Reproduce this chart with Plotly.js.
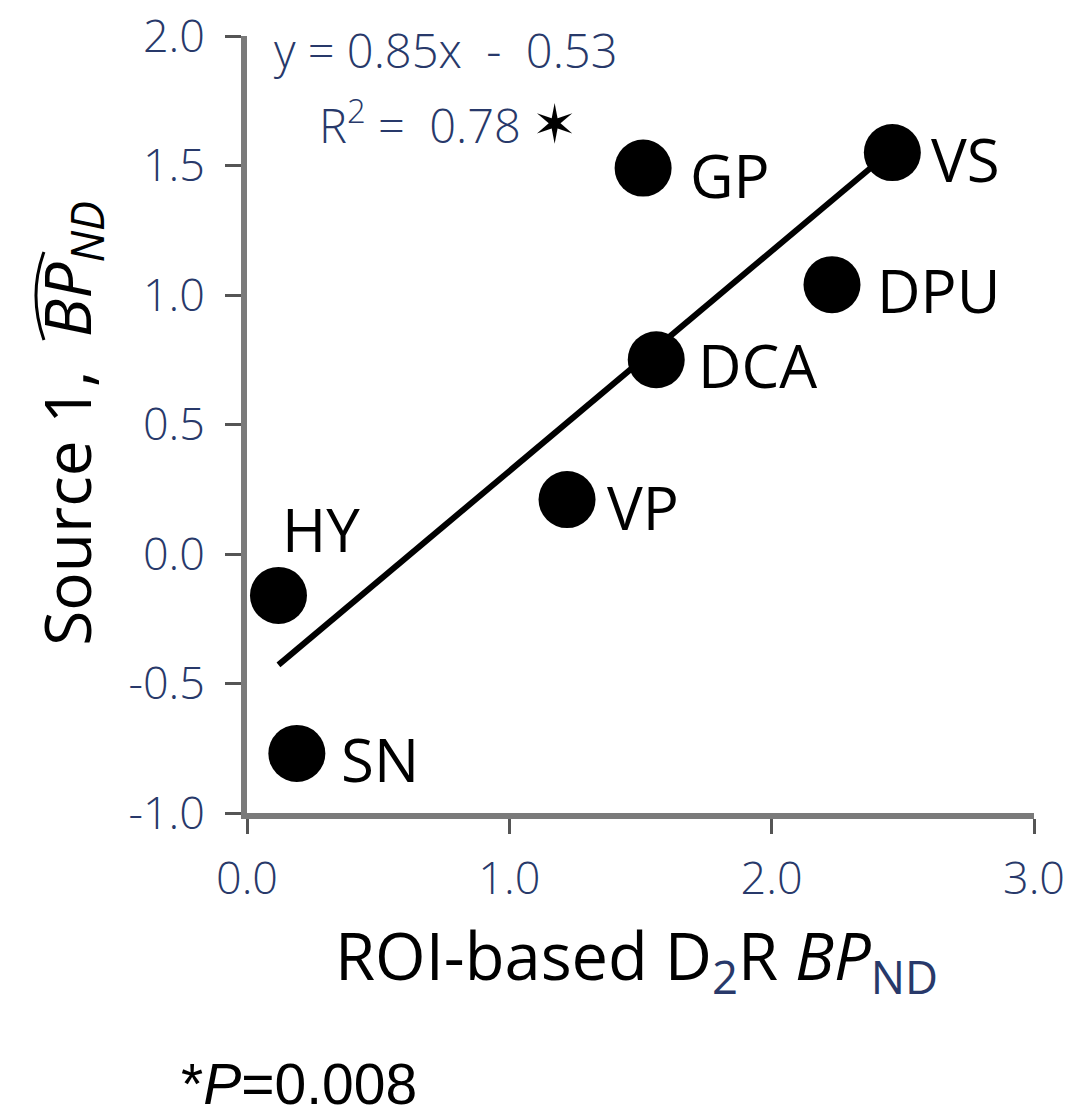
<!DOCTYPE html>
<html>
<head>
<meta charset="utf-8">
<script src="https://cdn.plot.ly/plotly-3.0.1.min.js"></script>
<style>
  html, body { margin: 0; padding: 0; background: #ffffff; }
  #chart { width: 1073px; height: 1115px; }
</style>
</head>
<body>
<div id="chart"></div>
<script>
// Regions of interest and their binding potentials
const regions = ['HY', 'SN', 'VP', 'DCA', 'GP', 'DPU', 'VS'];
const roiBP   = [0.12, 0.19, 1.22, 1.56, 1.51, 2.23, 2.46];
const srcBP   = [-0.16, -0.77, 0.21, 0.75, 1.49, 1.04, 1.55];

// Least-squares fit reported on the chart
const slope = 0.85;
const intercept = -0.53;
const rSquared = 0.78;
const pValue = '0.008';

// Axis ticks
const xTicks = [0, 1, 2, 3];
const xTickText = ['0.0', '1.0', '2.0', '3.0'];
const yTicks = [-1, -0.5, 0, 0.5, 1, 1.5, 2];
const yTickText = ['-1.0', '-0.5', '0.0', '0.5', '1.0', '1.5', '2.0'];

// Label placement offsets (pixels) relative to each point
const labelShift = {
  HY:  [2, 66],
  SN:  [42, -6],
  VP:  [38, -7],
  DCA: [40, -5],
  GP:  [45, -7],
  DPU: [43, -5],
  VS:  [37, -6]
};

const tickColor = '#28396a';
const labelFont = { family: 'Open Sans, Noto Sans, sans-serif', size: 60, color: '#000000' };

const xMin = Math.min(...roiBP);
const xMax = Math.max(...roiBP);
const fitX = [xMin, xMax];
const fitY = fitX.map(v => slope * v + intercept);

const traces = [
  {
    x: fitX, y: fitY, type: 'scatter', mode: 'lines',
    line: { color: '#000000', width: 6 },
    hoverinfo: 'skip', showlegend: false
  },
  {
    x: roiBP, y: srcBP, type: 'scatter', mode: 'markers',
    marker: { color: '#000000', size: 57, line: { width: 0 } },
    text: regions, showlegend: false
  }
];

const annotations = regions.map((r, i) => ({
  x: roiBP[i], y: srcBP[i], xref: 'x', yref: 'y',
  text: r, showarrow: false,
  xanchor: 'left', yanchor: 'middle',
  xshift: labelShift[r][0], yshift: labelShift[r][1],
  font: labelFont
}));

// Regression equation and fit statistics
annotations.push({
  xref: 'paper', yref: 'paper', x: 0.032, y: 0.982,
  xanchor: 'left', yanchor: 'middle', showarrow: false,
  text: 'y = ' + slope.toFixed(2) + 'x  -  ' + Math.abs(intercept).toFixed(2),
  font: { family: 'Open Sans, sans-serif', size: 47, color: tickColor, weight: 300 }
});
annotations.push({
  xref: 'paper', yref: 'paper', x: 0.089, y: 0.889,
  xanchor: 'left', yanchor: 'middle', showarrow: false,
  text: 'R<sup>2</sup> =  ' + rSquared.toFixed(2),
  font: { family: 'Open Sans, sans-serif', size: 47, color: tickColor, weight: 300 }
});
annotations.push({
  xref: 'paper', yref: 'paper', x: 0.391, y: 0.886,
  xanchor: 'center', yanchor: 'middle', showarrow: false,
  text: '\u2736',
  font: { family: 'DejaVu Sans, sans-serif', size: 54, color: '#000000' }
});

// Axis titles
annotations.push({
  xref: 'paper', yref: 'paper', x: 0.495, y: -0.123,
  xanchor: 'center', yanchor: 'top', showarrow: false,
  text: 'ROI-based D<sub><span style="color:' + tickColor + '">2</span></sub>R <i>BP</i><sub><span style="color:' + tickColor + '">ND</span></sub>',
  font: { family: 'Open Sans, Noto Sans, sans-serif', size: 65, color: '#000000' }
});
annotations.push({
  xref: 'paper', yref: 'paper', x: -0.225, y: 0.502,
  xanchor: 'center', yanchor: 'middle', showarrow: false, textangle: -90,
  text: 'Source 1,  <i>BP</i><sub><i>ND</i></sub>',
  font: { family: 'Open Sans, Noto Sans, sans-serif', size: 64, color: '#000000' }
});

// Footnote with the p-value
annotations.push({
  xref: 'paper', yref: 'paper', x: -0.086, y: -0.349,
  xanchor: 'left', yanchor: 'middle', showarrow: false,
  text: '*<i>P</i>=' + pValue,
  font: { family: 'Liberation Sans, Arial, sans-serif', size: 57, color: '#000000' }
});

const axisCommon = {
  showgrid: false, zeroline: false,
  showline: true, linecolor: '#7a7a7a', linewidth: 6,
  ticks: 'outside', tickcolor: '#555555', tickwidth: 3,
  tickfont: { family: 'Open Sans, sans-serif', size: 45, color: tickColor, weight: 300 },
  fixedrange: true
};

const layout = {
  width: 1073, height: 1115,
  margin: { l: 247, r: 39, t: 36, b: 302 },
  paper_bgcolor: '#ffffff', plot_bgcolor: '#ffffff',
  showlegend: false,
  xaxis: Object.assign({}, axisCommon, {
    range: [0, 3], tickvals: xTicks, ticktext: xTickText, ticklen: 15,
    ticklabelstandoff: 6
  }),
  yaxis: Object.assign({}, axisCommon, {
    range: [-1, 2], tickvals: yTicks, ticktext: yTickText, ticklen: 16,
    ticklabelstandoff: 11
  }),
  annotations: annotations,
  shapes: [{
    // wide hat over BP in the vertical title
    type: 'path', xref: 'paper', yref: 'paper',
    path: 'M -0.258,0.722 Q -0.2783,0.6667 -0.258,0.6088',
    line: { color: '#000000', width: 3 }
  }]
};

Plotly.newPlot('chart', traces, layout, { staticPlot: true, displayModeBar: false });
</script>
</body>
</html>
